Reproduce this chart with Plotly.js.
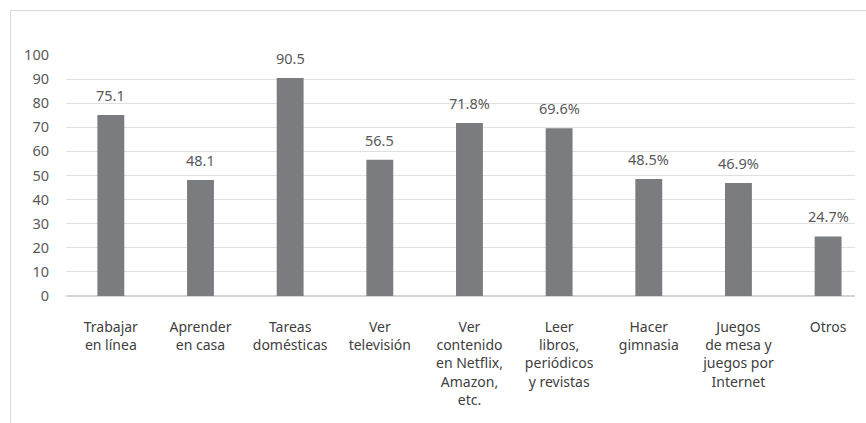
<!DOCTYPE html>
<html><head><meta charset="utf-8">
<script src="https://cdn.plot.ly/plotly-3.0.1.min.js"></script>
<style>
html,body{margin:0;padding:0;background:#fff;}
#wrap{position:relative;width:866px;height:423px;overflow:hidden;}
#frame{position:absolute;left:10px;top:10px;width:900px;height:500px;border-left:1px solid #d9d9d9;border-top:1px solid #d9d9d9;pointer-events:none;}
#chart{position:absolute;left:0;top:0;width:866px;height:423px;}
</style></head>
<body><div id="wrap"><div id="chart"></div><div id="frame"></div></div>
<script>
const categories = [
  "Trabajar<br>en línea",
  "Aprender<br>en casa",
  "Tareas<br>domésticas",
  "Ver<br>televisión",
  "Ver<br>contenido<br>en Netflix,<br>Amazon,<br>etc.",
  "Leer<br>libros,<br>periódicos<br>y revistas",
  "Hacer<br>gimnasia",
  "Juegos<br>de mesa y<br>juegos por<br>Internet",
  "Otros"
];
const values = [75.1, 48.1, 90.5, 56.5, 71.8, 69.6, 48.5, 46.9, 24.7];
const valueLabels = ["75.1", "48.1", "90.5", "56.5", "71.8%", "69.6%", "48.5%", "46.9%", "24.7%"];
const yTicks = [0, 10, 20, 30, 40, 50, 60, 70, 80, 90, 100];

const fam = "Noto Sans, sans-serif";
const annotations = categories.map((c, i) => ({
  x: c, y: values[i], xref: "x", yref: "y",
  text: valueLabels[i], showarrow: false,
  yanchor: "bottom", xanchor: "center", yshift: 8,
  font: {family: fam, size: 14.5, color: "#595959"}
}));

Plotly.newPlot("chart", [{
  type: "bar",
  x: categories,
  y: values,
  marker: {color: "#7b7c80"},
  width: 0.3,
  hoverinfo: "none"
}], {
  width: 866, height: 423,
  margin: {l: 66, r: 11, t: 55, b: 127},
  paper_bgcolor: "#fff", plot_bgcolor: "#fff",
  font: {family: fam, size: 14, color: "#595959"},
  showlegend: false,
  annotations: annotations,
  xaxis: {
    range: [-0.5, 8.3],
    showgrid: false, zeroline: false, showline: false,
    ticks: "", ticklabelstandoff: 21,
    tickfont: {family: fam, size: 14, color: "#404040"},
    tickangle: 0, fixedrange: true
  },
  yaxis: {
    range: [0, 100],
    tickvals: yTicks,
    ticktext: yTicks.map(String),
    showgrid: true, gridcolor: "#e0e0e0", gridwidth: 1,
    zeroline: true, zerolinecolor: "#d4d4d4", zerolinewidth: 2,
    showline: false, ticks: "", ticklabelstandoff: 16,
    tickfont: {family: fam, size: 14.5, color: "#595959"},
    fixedrange: true
  }
}, {displayModeBar: false, staticPlot: true});
</script></body></html>
